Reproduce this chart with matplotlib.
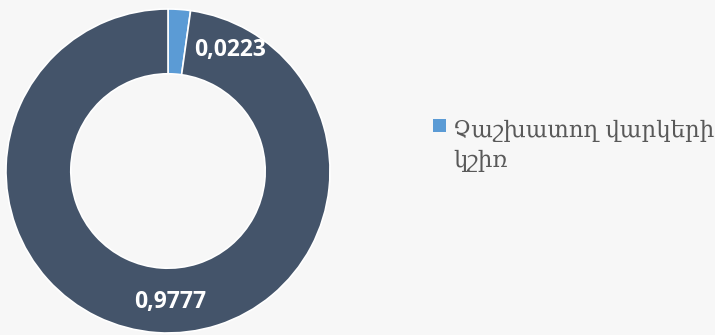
import numpy as np
import matplotlib
matplotlib.use('Agg')
import matplotlib.pyplot as plt
from matplotlib.patches import Rectangle

# Data
shares = [0.0223, 0.9777]
share_labels = ['0,0223', '0,9777']
colors = ['#5B9BD5', '#44546A']
legend_lines = ['Չաշխատող վարկերի', 'կշիռ']

BG = '#F7F7F7'

fig = plt.figure(figsize=(7.15, 3.35), dpi=100, facecolor=BG)
ax = fig.add_axes([6 / 715, 2 / 335, 324 / 715, 324 / 335])
ax.set_facecolor(BG)

wedges, _ = ax.pie(shares, colors=colors, startangle=90, counterclock=False,
                   radius=1.0, wedgeprops=dict(width=0.4, edgecolor='white', linewidth=1.2))
ax.set_xlim(-1, 1)
ax.set_ylim(-1, 1)
ax.set_aspect('equal')
ax.axis('off')

# Value labels: the tiny slice gets its label pushed clockwise onto the dark ring
for i, (w, lab) in enumerate(zip(wedges, share_labels)):
    mid = (w.theta1 + w.theta2) / 2
    if i == 0:
        mid -= 23
        r = 0.84
    else:
        mid += 5
        r = 0.81
    x = r * np.cos(np.radians(mid))
    y = r * np.sin(np.radians(mid))
    ax.text(x, y, lab, ha='center', va='center', color='white',
            fontsize=16.5, fontweight='bold', family='Open Sans')

# Legend drawn by hand so the marker sits beside the first line
fig.patches.append(Rectangle((433 / 715, 1 - 132 / 335), 13 / 715, 13 / 335,
                             transform=fig.transFigure, facecolor=colors[0],
                             edgecolor='none'))
for k, line in enumerate(legend_lines):
    fig.text(453 / 715, 1 - (137 + 30 * k) / 335, line, ha='left', va='baseline',
             fontsize=16.5, color='#595959', family=['DejaVu Serif', 'DejaVu Sans'])

fig.savefig('out.png', dpi=100, facecolor=BG)
